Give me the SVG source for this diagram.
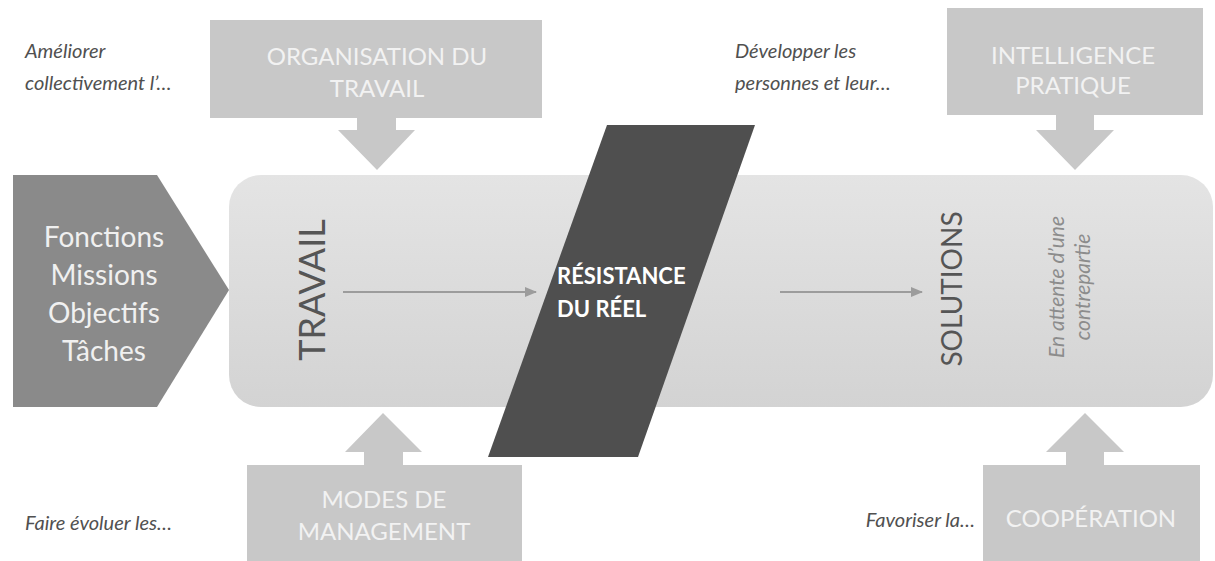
<svg xmlns="http://www.w3.org/2000/svg" width="1215" height="561" viewBox="0 0 1215 561">
  <defs>
    <linearGradient id="mainFill" x1="0" y1="0" x2="0" y2="1">
      <stop offset="0" stop-color="#e4e4e4"/>
      <stop offset="1" stop-color="#d3d3d3"/>
    </linearGradient>
    <marker id="head" markerWidth="12" markerHeight="12" refX="11" refY="6" orient="auto" markerUnits="userSpaceOnUse">
      <path d="M0,1 L12,6 L0,11 Z" fill="#9c9c9c"/>
    </marker>
  </defs>
  <style>
    .callout { fill: #c8c8c8; }
    .callout-txt { font-family: Lato, "Open Sans", "Liberation Sans", sans-serif; font-size: 24px; fill: #f2f2f2; text-anchor: middle; }
    .hint { font-family: Lato, "Open Sans", "Liberation Sans", sans-serif; font-style: italic; font-size: 20px; fill: #505050; }
    .flow { stroke: #9c9c9c; stroke-width: 2; fill: none; marker-end: url(#head); }
    .vert { font-family: Lato, "Open Sans", "Liberation Sans", sans-serif; fill: #555555; text-anchor: middle; }
  </style>

  <rect width="1215" height="561" fill="#ffffff"/>

  <!-- main work area -->
  <g id="travail">
    <rect x="229" y="175" width="984" height="232" rx="32" ry="32" fill="url(#mainFill)"/>
    <text class="vert" font-size="36" transform="translate(325,290) rotate(-90)">TRAVAIL</text>
  </g>

  <!-- inputs chevron -->
  <g id="inputs">
    <polygon points="13,175 157,175 229,290 157,407 13,407" fill="#8a8a8a"/>
    <g font-family="Lato, Open Sans, Liberation Sans, sans-serif" font-size="28" fill="#f0f0f0" text-anchor="middle">
      <text x="104" y="247">Fonctions</text>
      <text x="104" y="285">Missions</text>
      <text x="104" y="323">Objectifs</text>
      <text x="104" y="361">Tâches</text>
    </g>
  </g>

  <!-- resistance of the real -->
  <g id="resistance">
    <polygon points="607,125 755,125 638,457 488,457" fill="#4f4f4f"/>
    <g font-family="Lato, Open Sans, Liberation Sans, sans-serif" font-size="22" font-weight="bold" fill="#ffffff">
      <text x="557" y="284">RÉSISTANCE</text>
      <text x="557" y="317">DU RÉEL</text>
    </g>
  </g>

  <g id="solutions">
    <text class="vert" font-size="28" transform="translate(962,289) rotate(-90)">SOLUTIONS</text>
    <g font-family="Lato, Open Sans, Liberation Sans, sans-serif" font-style="italic" font-size="21" fill="#8c8c8c" text-anchor="middle">
      <text transform="translate(1064,287) rotate(-90)">En attente d’une</text>
      <text transform="translate(1090,287) rotate(-90)">contrepartie</text>
    </g>
  </g>

  <!-- levers -->
  <g id="organisation">
    <rect class="callout" x="210" y="20" width="332" height="98"/>
    <polygon class="callout" points="357,118 396,118 396,130 415,130 377,170 338,130 357,130"/>
    <text class="callout-txt" x="377" y="65">ORGANISATION DU</text>
    <text class="callout-txt" x="377" y="97">TRAVAIL</text>
    <text class="hint" x="25" y="58">Améliorer</text>
    <text class="hint" x="25" y="90">collectivement l’…</text>
  </g>

  <g id="intelligence">
    <rect class="callout" x="947" y="8" width="256" height="107"/>
    <polygon class="callout" points="1056,115 1094,115 1094,130 1114,130 1075,170 1036,130 1056,130"/>
    <text class="callout-txt" x="1073" y="64">INTELLIGENCE</text>
    <text class="callout-txt" x="1073" y="94">PRATIQUE</text>
    <text class="hint" x="735" y="58">Développer les</text>
    <text class="hint" x="735" y="90">personnes et leur…</text>
  </g>

  <g id="management">
    <rect class="callout" x="247" y="465" width="275" height="96"/>
    <polygon class="callout" points="364,465 403,465 403,452 422,452 383,413 345,452 364,452"/>
    <text class="callout-txt" x="384" y="508">MODES DE</text>
    <text class="callout-txt" x="384" y="540">MANAGEMENT</text>
    <text class="hint" x="25" y="530">Faire évoluer les…</text>
  </g>

  <g id="cooperation">
    <rect class="callout" x="983" y="465" width="217" height="96"/>
    <polygon class="callout" points="1066,465 1104,465 1104,452 1124,452 1085,413 1046,452 1066,452"/>
    <text class="callout-txt" x="1091" y="527">COOPÉRATION</text>
    <text class="hint" x="975" y="527" text-anchor="end">Favoriser la…</text>
  </g>

  <!-- connectors -->
  <g id="connectors">
    <line class="flow" x1="343" y1="292" x2="536" y2="292"/>
    <line class="flow" x1="780" y1="292" x2="922" y2="292"/>
  </g>
</svg>
